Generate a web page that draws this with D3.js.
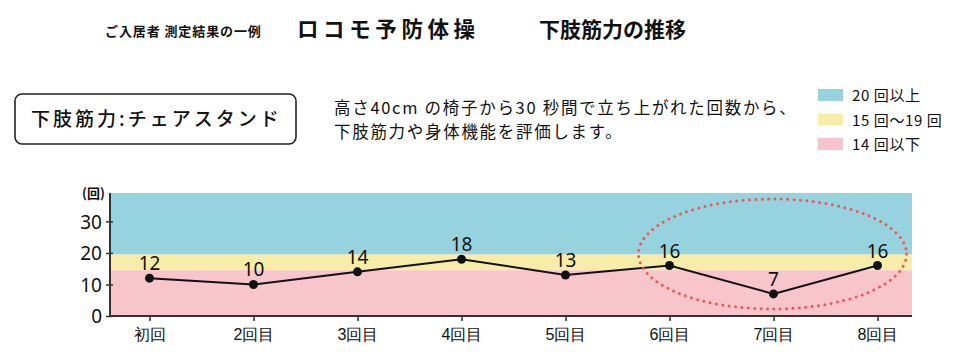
<!DOCTYPE html>
<html><head><meta charset="utf-8">
<script src="https://cdn.jsdelivr.net/npm/d3@7"></script>
<style>
body{margin:0;background:#fff;}
svg{display:block;font-family:"Noto Sans CJK JP","Noto Sans",sans-serif;}
</style></head>
<body><svg id="c" width="960" height="360"></svg>
<script>
const categories = ["初回","2回目","3回目","4回目","5回目","6回目","7回目","8回目"];
const counts = [12,10,14,18,13,16,7,16];
const yTicks = [0,10,20,30];
const bandNames = ["20 回以上","15 回〜19 回","14 回以下"];
const bandLows = [19.5,14.5,0];
const bandHighs = [39,19.5,14.5];
const bandColors = ["#97d3df","#f7eda8","#f7c5ca"];
const highlightFrom = "6回目", highlightTo = "8回目";
const titleLeft = "ご入居者 測定結果の一例";
const titleA = "ロコモ予防体操", titleB = "下肢筋力の推移";
const boxLabel = "下肢筋力:チェアスタンド";
const descLines = ["高さ40cm の椅子から30 秒間で立ち上がれた回数から、","下肢筋力や身体機能を評価します。"];
const unitLabel = "(回)";

const svg = d3.select("#c");
const L = 110, R = 912, T = 193, B = 316;
const x = d3.scalePoint().domain(categories).range([149.5, 877.5]);
const y = d3.scaleLinear().domain([0,39]).range([B, T]);

// titles
svg.append("text").attr("x",105).attr("y",36).attr("font-size",13).attr("font-weight",700).attr("letter-spacing",0.9).attr("fill","#111").text(titleLeft);
svg.append("text").attr("x",297).attr("y",37).attr("font-size",21.5).attr("font-weight",700).attr("letter-spacing",4.6).attr("fill","#111").text(titleA);
svg.append("text").attr("x",539).attr("y",37).attr("font-size",21).attr("font-weight",700).attr("fill","#111").text(titleB);

// box
svg.append("rect").attr("x",15).attr("y",94).attr("width",281).attr("height",50).attr("rx",7)
  .attr("fill","#fff").attr("stroke","#222").attr("stroke-width",1.6);
svg.append("text").attr("x",31).attr("y",126).attr("font-size",19).attr("font-weight",500).attr("letter-spacing",3).attr("fill","#111").text(boxLabel);

// description
const dt = svg.append("text").attr("font-size",16.5).attr("fill","#111").attr("letter-spacing",1.7);
descLines.forEach((s,i)=>dt.append("tspan").attr("x",334).attr("y",114+i*23.5).text(s));

// legend
const lg = svg.append("g");
bandNames.forEach((n,i)=>{
  lg.append("rect").attr("x",818).attr("y",89+i*24.5).attr("width",25).attr("height",12).attr("fill",bandColors[i]);
  lg.append("text").attr("x",852).attr("y",101+i*24.5).attr("font-size",15).attr("letter-spacing",0.6).attr("fill","#111").text(n);
});

// bands
bandNames.forEach((n,i)=>{
  svg.append("rect").attr("x",L).attr("width",R-L).attr("y",y(bandHighs[i])).attr("height",y(bandLows[i])-y(bandHighs[i])).attr("fill",bandColors[i]);
});

// axes
const yAxis = d3.axisLeft(y).tickValues(yTicks).tickSize(4).tickPadding(4);
const gy = svg.append("g").attr("transform",`translate(${L},0)`).call(yAxis);
gy.select(".domain").attr("stroke","#333").attr("stroke-width",2).attr("d",`M0,${T}V${B}`);
gy.selectAll(".tick line").attr("stroke","#333").attr("stroke-width",1.5).attr("x1",3);
gy.selectAll(".tick text").attr("font-size",19).attr("fill","#111").attr("font-family","Noto Sans, sans-serif").attr("dy","0.35em");

const xAxis = d3.axisBottom(x).tickSize(5).tickPadding(8);
const gx = svg.append("g").attr("transform",`translate(0,${B})`).call(xAxis);
gx.select(".domain").attr("stroke","#333").attr("stroke-width",2).attr("d",`M${L},0H${R}`);
gx.selectAll(".tick line").attr("stroke","#333").attr("stroke-width",1.5);
gx.selectAll(".tick text").attr("font-size",16).attr("font-weight",500).attr("fill","#111");

svg.append("text").attr("x",82).attr("y",198).attr("font-size",13).attr("font-weight",700).attr("fill","#111").text(unitLabel);

// line + points
const line = d3.line().x((d,i)=>x(categories[i])).y(d=>y(d));
svg.append("path").datum(counts).attr("d",line).attr("fill","none").attr("stroke","#111").attr("stroke-width",2);
svg.selectAll("circle.pt").data(counts).join("circle").attr("class","pt")
  .attr("cx",(d,i)=>x(categories[i])).attr("cy",d=>y(d)).attr("r",4.5).attr("fill","#111");
svg.selectAll("text.val").data(counts).join("text").attr("class","val")
  .attr("x",(d,i)=>x(categories[i])).attr("y",d=>y(d)-8).attr("text-anchor","middle")
  .attr("font-size",19).attr("font-family","Noto Sans, sans-serif").attr("fill","#111").text(d=>d);

// highlight ellipse
const ex0 = x(highlightFrom), ex1 = x(highlightTo);
svg.append("ellipse").attr("cx",(ex0+ex1)/2 - 1).attr("cy",254).attr("rx",(ex1-ex0)/2+30).attr("ry",55)
  .attr("fill","none").attr("stroke","#f05555").attr("stroke-width",3).attr("stroke-linecap","round").attr("stroke-dasharray","0 6.4");
</script></body></html>
